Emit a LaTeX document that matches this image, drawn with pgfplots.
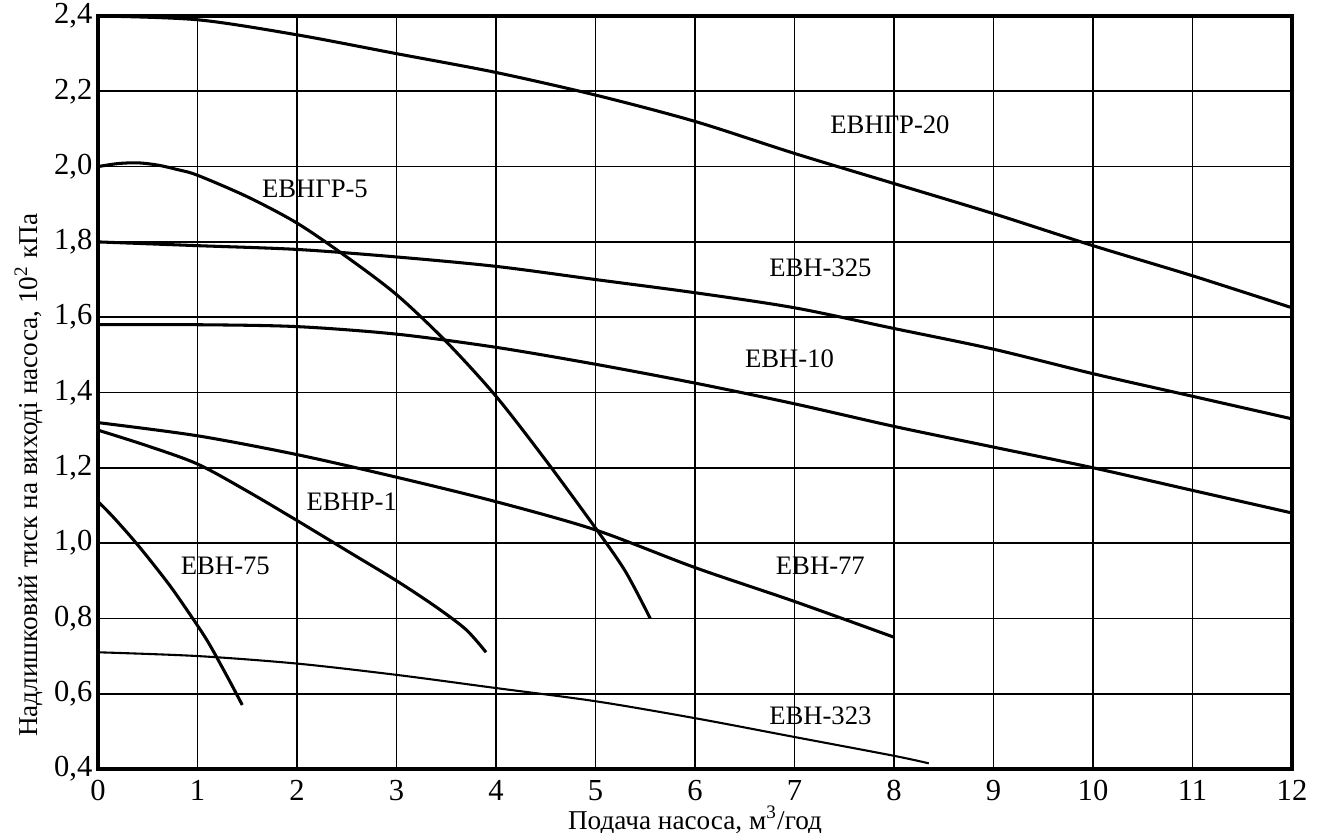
\documentclass[border=0pt]{standalone}
\usepackage{pgfplots}
\pgfplotsset{compat=1.18}
\usepackage{fontspec}
\setmainfont{Liberation Serif}
\begin{document}
\begin{tikzpicture}
\begin{axis}[
  scale only axis,
  width=429.84pt, height=271.08pt,
  xmin=0, xmax=12, ymin=0.4, ymax=2.4,
  xtick={0,1,...,12},
  ytick={0.4,0.6,...,2.4},
  grid=major,
  major grid style={black, line width=0.6pt},
  axis line style={black, line width=1.1pt},
  major tick length=0pt,
  tick label style={font=\fontsize{11}{13}\selectfont},
  /pgf/number format/assume math mode=true,
  /pgf/number format/use comma,
  yticklabel style={/pgf/number format/fixed, /pgf/number format/precision=1, /pgf/number format/fixed zerofill},
  xticklabel style={inner sep=0.5pt, text height=7.6pt, text depth=0pt, yshift=-3pt},
  yticklabel style={xshift=1.5pt},
  xlabel={Подача насоса, м\textsuperscript{3}/год},
  ylabel={Надлишковий тиск на виході насоса, 10\textsuperscript{2} кПа},
  label style={font=\fontsize{9.8}{12}\selectfont},
  xlabel style={at={(axis description cs:0.5,0)}, anchor=base, inner sep=0.3pt, yshift=-21.6pt},
  ylabel style={at={(axis description cs:0,0.39)}, anchor=center, yshift=25pt},
  clip=false,
]
% EBHGR-20
\addplot[black, line width=1.1pt, smooth] coordinates {(0,2.40)(1,2.39)(2,2.35)(3,2.30)(4,2.25)(5,2.19)(6,2.12)(7,2.035)(8,1.955)(9,1.875)(10,1.79)(11,1.71)(12,1.625)};
% EBHGR-5
\addplot[black, line width=1.1pt, smooth] coordinates {(0,2.00)(0.2,2.008)(0.4,2.01)(0.6,2.004)(0.8,1.992)(1,1.977)(1.5,1.92)(2,1.85)(2.5,1.76)(3,1.66)(3.5,1.535)(4,1.39)(4.5,1.22)(5,1.04)(5.3,0.925)(5.55,0.80)};
% EBH-325
\addplot[black, line width=1.1pt, smooth] coordinates {(0,1.80)(1,1.79)(2,1.78)(3,1.76)(4,1.735)(5,1.70)(6,1.665)(7,1.625)(8,1.57)(9,1.515)(10,1.45)(11,1.39)(12,1.33)};
% EBH-10
\addplot[black, line width=1.1pt, smooth] coordinates {(0,1.58)(1,1.58)(2,1.575)(3,1.555)(4,1.52)(5,1.475)(6,1.425)(7,1.37)(8,1.31)(9,1.255)(10,1.20)(11,1.14)(12,1.08)};
% EBH-77
\addplot[black, line width=1.1pt, smooth] coordinates {(0,1.32)(1,1.285)(2,1.235)(3,1.175)(4,1.11)(5,1.035)(6,0.935)(7,0.845)(8,0.75)};
% EBHR-1
\addplot[black, line width=1.1pt, smooth] coordinates {(0,1.30)(0.5,1.258)(1,1.21)(1.5,1.138)(2,1.06)(2.5,0.98)(3,0.90)(3.4,0.83)(3.7,0.77)(3.9,0.71)};
% EBH-75
\addplot[black, line width=1.1pt, smooth] coordinates {(0,1.11)(0.15,1.07)(0.4,0.995)(0.7,0.895)(0.9,0.82)(1.1,0.74)(1.3,0.645)(1.45,0.57)};
% EBH-323
\addplot[black, line width=0.75pt, smooth] coordinates {(0,0.71)(1,0.70)(2,0.68)(3,0.65)(4,0.615)(5,0.58)(6,0.535)(7,0.485)(8,0.435)(8.35,0.415)};

\begin{scope}[every node/.style={font=\fontsize{9.6}{12}\selectfont, fill=none}]
\node at (axis cs:7.96,2.11) {ЕВНГР-20};
\node at (axis cs:2.18,1.94) {ЕВНГР-5};
\node at (axis cs:7.26,1.73) {ЕВН-325};
\node at (axis cs:6.95,1.49) {ЕВН-10};
\node at (axis cs:2.55,1.11) {ЕВНР-1};
\node at (axis cs:1.28,0.94) {ЕВН-75};
\node at (axis cs:7.26,0.94) {ЕВН-77};
\node at (axis cs:7.26,0.54) {ЕВН-323};
\end{scope}
\end{axis}
\pgfresetboundingbox
\useasboundingbox (current axis.south west) ++(-35.28pt,-23.04pt) rectangle ++(474.12pt,299.88pt);
\end{tikzpicture}
\end{document}
